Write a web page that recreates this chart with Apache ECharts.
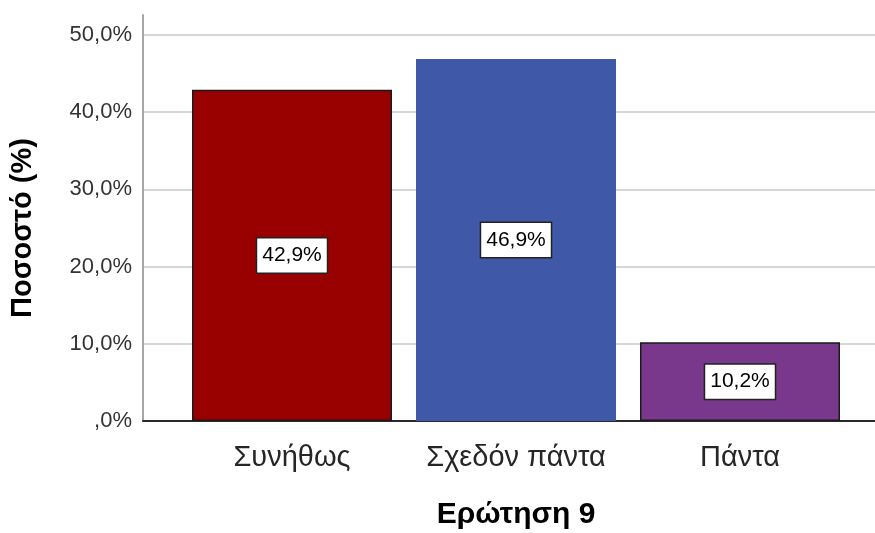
<!DOCTYPE html>
<html>
<head>
<meta charset="utf-8">
<script src="https://cdn.jsdelivr.net/npm/echarts@6/dist/echarts.min.js"></script>
<style>
html,body{margin:0;padding:0;background:#fff;}
#chart{width:875px;height:533px;}
</style>
</head>
<body>
<div id="chart"></div>
<script>
const categories = ['Συνήθως', 'Σχεδόν πάντα', 'Πάντα'];
const values = [42.9, 46.9, 10.2];
const barColors = ['#990000', '#3F59A8', '#7A388C'];
const barBorders = ['#1a1a1a', '#3F59A8', '#1a1a1a'];
const yTicks = [0, 10, 20, 30, 40, 50];
const yTitle = 'Ποσοστό (%)';
const xTitle = 'Ερώτηση 9';

function pct(v) {
  if (v === 0) return ',0%';
  return v.toFixed(1).replace('.', ',') + '%';
}

const FONT = 'Liberation Sans';
const chart = echarts.init(document.getElementById('chart'), null, {renderer: 'canvas'});

chart.setOption({
  animation: false,
  backgroundColor: '#ffffff',
  grid: [
    {left: 143, right: 0, top: 15, bottom: 112, outerBoundsMode: 'none', containLabel: false},
    {left: 143, right: 0, top: 35, bottom: 112, outerBoundsMode: 'none', containLabel: false},
    {left: 180, right: 23, top: 35, bottom: 112, outerBoundsMode: 'none', containLabel: false}
  ],
  xAxis: [
    {gridIndex: 0, type: 'value', min: 0, max: 1, axisLine: {show: true, onZero: false, lineStyle: {color: '#2a2a2a', width: 2}},
     axisTick: {show: false}, axisLabel: {show: false}, splitLine: {show: false}},
    {gridIndex: 1, type: 'value', min: 0, max: 1, show: false},
    {gridIndex: 2, type: 'category', data: categories,
     axisLine: {show: false}, axisTick: {show: false},
     axisLabel: {fontFamily: FONT, fontSize: 29, color: '#262626', margin: 22, interval: 0, hideOverlap: false},
     name: xTitle, nameLocation: 'middle', nameGap: 79,
     nameTextStyle: {fontFamily: FONT, fontSize: 30, fontWeight: 'bold', color: '#000'}}
  ],
  yAxis: [
    {gridIndex: 0, type: 'value', min: 0, max: 52.6,
     axisLine: {show: true, lineStyle: {color: '#a6a6a6', width: 2}},
     axisTick: {show: false}, axisLabel: {show: false}, splitLine: {show: false}},
    {gridIndex: 1, type: 'value', min: yTicks[0], max: yTicks[yTicks.length - 1], interval: yTicks[1] - yTicks[0],
     axisLine: {show: false}, axisTick: {show: false},
     axisLabel: {fontFamily: FONT, fontSize: 22, color: '#333', margin: 11, formatter: pct},
     splitLine: {show: true, lineStyle: {color: '#c8c8c8', width: 1.5}},
     name: yTitle, nameLocation: 'middle', nameGap: 106, nameRotate: 90,
     nameTextStyle: {fontFamily: FONT, fontSize: 29, fontWeight: 'bold', color: '#000'}},
    {gridIndex: 2, type: 'value', min: 0, max: 50, show: false}
  ],
  series: [{
    type: 'bar',
    xAxisIndex: 2,
    yAxisIndex: 2,
    barWidth: 200,
    z: 3,
    data: values.map((v, i) => ({
      value: v,
      itemStyle: {color: barColors[i], borderColor: barBorders[i], borderWidth: 1.5}
    })),
    label: {
      show: true,
      position: 'inside',
      formatter: p => pct(p.value),
      fontFamily: FONT,
      fontSize: 21,
      color: '#000',
      backgroundColor: '#ffffff',
      borderColor: '#222',
      borderWidth: 1.5,
      padding: [7, 5, 6, 5]
    }
  }]
});
</script>
</body>
</html>
